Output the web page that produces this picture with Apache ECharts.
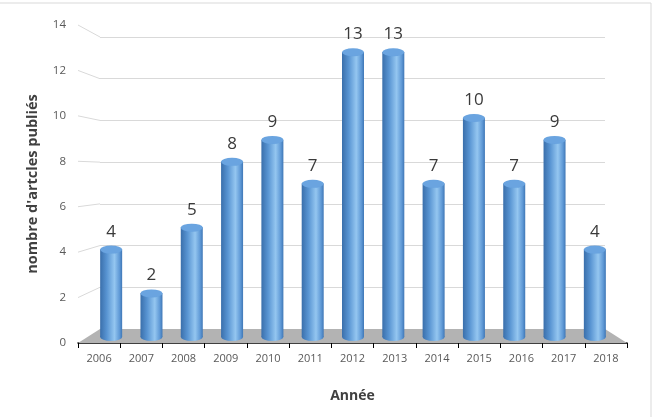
<!DOCTYPE html>
<html>
<head>
<meta charset="utf-8">
<script src="https://cdn.jsdelivr.net/npm/echarts@6/dist/echarts.min.js"></script>
<style>
  html, body { margin: 0; padding: 0; background: #fff; }
  #chart { width: 654px; height: 417px; }
</style>
</head>
<body>
<div id="chart"></div>
<script>
    // données
    const years = ['2006','2007','2008','2009','2010','2011','2012','2013','2014','2015','2016','2017','2018']
    const articles = [4, 2, 5, 8, 9, 7, 13, 13, 7, 10, 7, 9, 4]
    const yTicks = [0, 2, 4, 6, 8, 10, 12, 14]

    const chart = echarts.init(document.getElementById('chart'))
    const txt = '#595959'
    const font = '"Open Sans", "Liberation Sans", sans-serif'

    // bord gauche / droit d'une grille, via l'échelle de catégories
    function edges(gridIndex, v){
        let a = chart.convertToPixel({gridIndex: gridIndex}, [years[0], v])
        let b = chart.convertToPixel({gridIndex: gridIndex}, [years[years.length-1], v])
        let half = (b[0] - a[0]) / (years.length - 1) / 2
        return {left: [a[0]-half, a[1]], right: [b[0]+half, b[1]]}
    }

    const barGrad = new echarts.graphic.LinearGradient(0, 0, 1, 0, [
        {offset: 0, color: '#3a6fab'},
        {offset: 0.3, color: '#5894d2'},
        {offset: 0.65, color: '#94c6f0'},
        {offset: 0.88, color: '#5f99d6'},
        {offset: 1, color: '#3f77b6'}
    ])

    let option = {
        animation: false,
        textStyle: {fontFamily: font},
        graphic: [{
            type: 'rect', z: 0, silent: true,
            shape: {x: -2, y: 3, width: 653, height: 430},
            style: {fill: 'none', stroke: '#d9d9d9', lineWidth: 1}
        }],
        grid: [
            {left: 78, right: 27, top: 25, bottom: 74},   // plan avant (axes)
            {left: 100, right: 49, top: 37, bottom: 88},  // paroi du fond
            {left: 91, right: 39, top: 30, bottom: 80}    // cylindres
        ],
        xAxis: [
            {
                gridIndex: 0, type: 'category', data: years,
                name: 'Année', nameLocation: 'middle', nameGap: 46,
                nameTextStyle: {fontSize: 14, fontWeight: 'bold', color: '#404040'},
                axisLine: {lineStyle: {color: '#000', width: 1.5}},
                axisTick: {show: true, length: 5, alignWithLabel: false, lineStyle: {color: '#000'}},
                axisLabel: {color: txt, fontSize: 11, margin: 10}
            },
            {gridIndex: 1, type: 'category', data: years, show: false},
            {gridIndex: 2, type: 'category', data: years, show: false}
        ],
        yAxis: [
            {
                gridIndex: 0, type: 'value', min: 0, max: 14, interval: 2,
                name: "nombre d'artcles publiés", nameLocation: 'middle', nameGap: 38,
                nameTextStyle: {fontSize: 14.5, fontWeight: 'bold', color: '#404040'},
                axisLine: {show: false}, axisTick: {show: false},
                splitLine: {show: false},
                axisLabel: {color: txt, fontSize: 11.5, margin: 12}
            },
            {
                gridIndex: 1, type: 'value', min: 0, max: 14, interval: 2,
                axisLine: {show: false}, axisTick: {show: false}, axisLabel: {show: false},
                splitLine: {show: true, lineStyle: {color: '#d9d9d9', width: 1}}
            },
            {gridIndex: 2, type: 'value', min: 0, max: 14, interval: 2, show: false}
        ],
        series: [
            {
                // petits segments obliques des lignes de quadrillage
                type: 'custom', xAxisIndex: 0, yAxisIndex: 0, z: 1, silent: true,
                data: yTicks.slice(1).map(v => [years[0], v]),
                renderItem(params, api){
                    let v = api.value(1)
                    let f = edges(0, v).left
                    let b = edges(1, v).left
                    return {
                        type: 'line',
                        shape: {x1: f[0], y1: f[1], x2: b[0], y2: b[1]},
                        style: {stroke: '#d9d9d9', lineWidth: 1}
                    }
                }
            },
            {
                // plancher gris
                type: 'custom', xAxisIndex: 0, yAxisIndex: 0, z: 2, silent: true,
                data: [[years[0], 0]],
                renderItem(params, api){
                    let f = edges(0, 0)
                    let b = edges(1, 0)
                    return {
                        type: 'polygon',
                        shape: {points: [f.left, f.right, b.right, b.left]},
                        style: {fill: '#b3b3b3'}
                    }
                }
            },
            {
                type: 'bar', xAxisIndex: 2, yAxisIndex: 2, z: 3,
                data: articles, barWidth: 22,
                itemStyle: {color: barGrad},
                label: {
                    show: true, position: 'top', distance: 9,
                    fontSize: 17, color: '#3a3a3a', fontFamily: font
                }
            },
            {
                // fond arrondi du cylindre
                type: 'pictorialBar', xAxisIndex: 2, yAxisIndex: 2, z: 2.5,
                data: articles, symbol: 'circle', symbolSize: [22, 8],
                symbolPosition: 'start', symbolOffset: [0, '50%'],
                itemStyle: {color: barGrad}
            },
            {
                // dessus du cylindre
                type: 'pictorialBar', xAxisIndex: 2, yAxisIndex: 2, z: 4,
                data: articles, symbol: 'circle', symbolSize: [22, 8],
                symbolPosition: 'end', symbolOffset: [0, '-50%'],
                itemStyle: {color: '#6aa4e0', borderColor: '#4a84c4', borderWidth: 1}
            }
        ]
    }
    chart.setOption(option)
</script>
</body>
</html>
